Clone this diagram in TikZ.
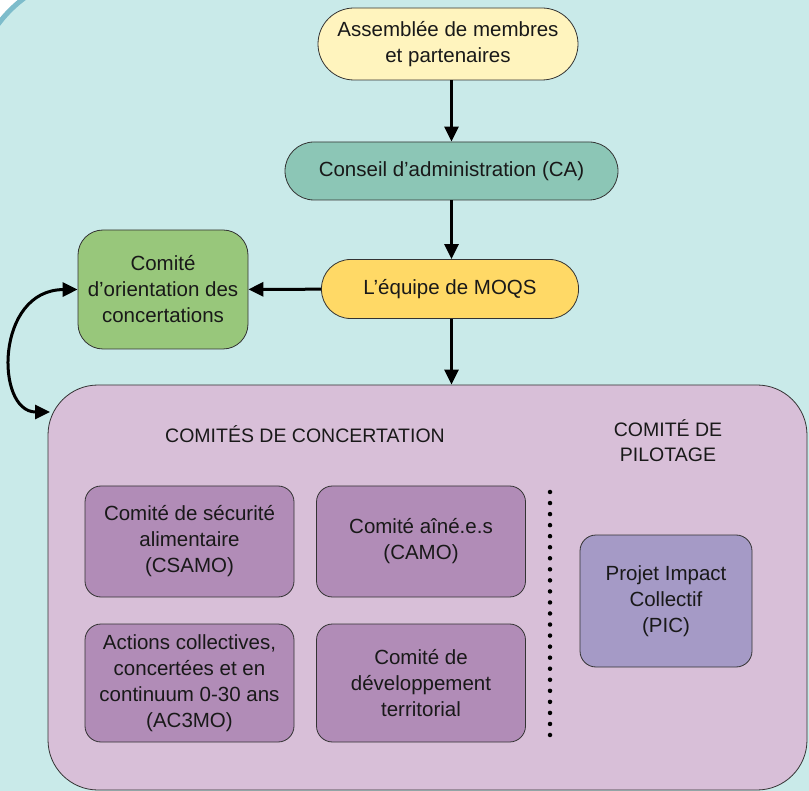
\documentclass[tikz,border=0pt]{standalone}
\usepackage{fontspec}
\setmainfont{Liberation Sans}
\usetikzlibrary{arrows.meta, positioning}
\definecolor{FondTeal}{HTML}{C9EAE9}
\definecolor{BordTeal}{HTML}{7DBCCB}
\definecolor{JauneClair}{HTML}{FFF4BE}
\definecolor{VertEau}{HTML}{8CC6B6}
\definecolor{JauneOr}{HTML}{FFD966}
\definecolor{VertFeuille}{HTML}{98C77B}
\definecolor{MauveClair}{HTML}{D8BFD8}
\definecolor{MauveFonce}{HTML}{B18CB7}
\definecolor{Lavande}{HTML}{A59AC6}

\begin{document}
\begin{tikzpicture}[x=1pt, y=-1pt,
    boite/.style={draw=black!80, line width=0.8pt, align=center, inner sep=0pt,
                  text=black!90, font=\fontsize{20.5}{26}\selectfont},
    fleche/.style={-{Triangle[length=15pt, width=14pt]}, line width=3pt},
    titre/.style={align=center, text=black!90, font=\fontsize{19.5}{25}\selectfont}]
    \useasboundingbox (0,0) rectangle (809,791);
    \clip (0,0) rectangle (809,791);
    % Background with its rounded corner
    \draw[BordTeal, fill=FondTeal, line width=5pt, rounded corners=127pt]
        (-27,-27) rectangle (1100,1100);

    % Top chain
    \node[boite, fill=JauneClair, minimum width=260pt, minimum height=72pt,
          rounded corners=36pt] (assemblee) at (448,44)
          {Assemblée de membres\\et partenaires};
    \node[boite, fill=VertEau, minimum width=333pt, minimum height=58pt,
          rounded corners=29pt] (conseil) at (451.5,171)
          {Conseil d’administration (CA)};
    \node[boite, fill=JauneOr, minimum width=257pt, minimum height=59pt,
          rounded corners=29pt] (equipe) at (450,289) {L’équipe de MOQS};
    \node[boite, fill=VertFeuille, minimum width=170pt, minimum height=119pt,
          rounded corners=25pt] (orientation) at (163,289.5)
          {Comité\\d’orientation des\\concertations};

    % Big box of the committees
    \node[boite, fill=MauveClair, minimum width=759pt, minimum height=405pt,
          rounded corners=50pt] (comites) at (427.5,587.5) {};
    \node[titre] (titreConcert) at (305,434) {COMITÉS DE CONCERTATION};
    \node[titre] (titrePilotage) at (668,441) {COMITÉ DE\\PILOTAGE};

    \node[boite, fill=MauveFonce, minimum width=209pt, minimum height=111pt,
          rounded corners=16pt] (csamo) at (189.5,541.5)
          {Comité de sécurité\\alimentaire\\(CSAMO)};
    \node[boite, fill=MauveFonce, minimum width=209pt, minimum height=111pt,
          rounded corners=16pt] (camo) at (421,541.5)
          {Comité aîné.e.s\\(CAMO)};
    \node[boite, fill=MauveFonce, minimum width=209pt, minimum height=118pt,
          rounded corners=16pt] (ac3mo) at (189.5,683)
          {Actions collectives,\\concertées et en\\continuum 0-30 ans\\(AC3MO)};
    \node[boite, fill=MauveFonce, minimum width=209pt, minimum height=118pt,
          rounded corners=16pt] (territorial) at (421,683)
          {Comité de\\développement\\territorial};
    \node[boite, fill=Lavande, minimum width=172pt, minimum height=132pt,
          rounded corners=16pt] (pic) at (666,601)
          {Projet Impact\\Collectif\\(PIC)};

    % Dotted separator
    \coordinate (pointsHaut) at (550,492);
    \coordinate (pointsBas) at (550,735);
    \draw[line width=4.5pt, line cap=round, dash pattern=on 0pt off 11.045pt]
        (pointsHaut) -- (pointsBas);

    % Connectors
    \draw[fleche] (assemblee.south -| conseil.north) -- (conseil.north);
    \draw[fleche] (conseil.south) -- (conseil.south |- equipe.north);
    \draw[fleche] (equipe) -- (orientation);
    \draw[fleche] (conseil.south |- equipe.south) -- (conseil.south |- comites.north);
    \coordinate (entree) at (50,412);
    \draw[fleche, {Triangle[length=15pt, width=14pt]}-{Triangle[length=15pt, width=14pt]}]
        (orientation.west) .. controls (-5,290) and (-5,412) .. (entree);
\end{tikzpicture}
\end{document}
